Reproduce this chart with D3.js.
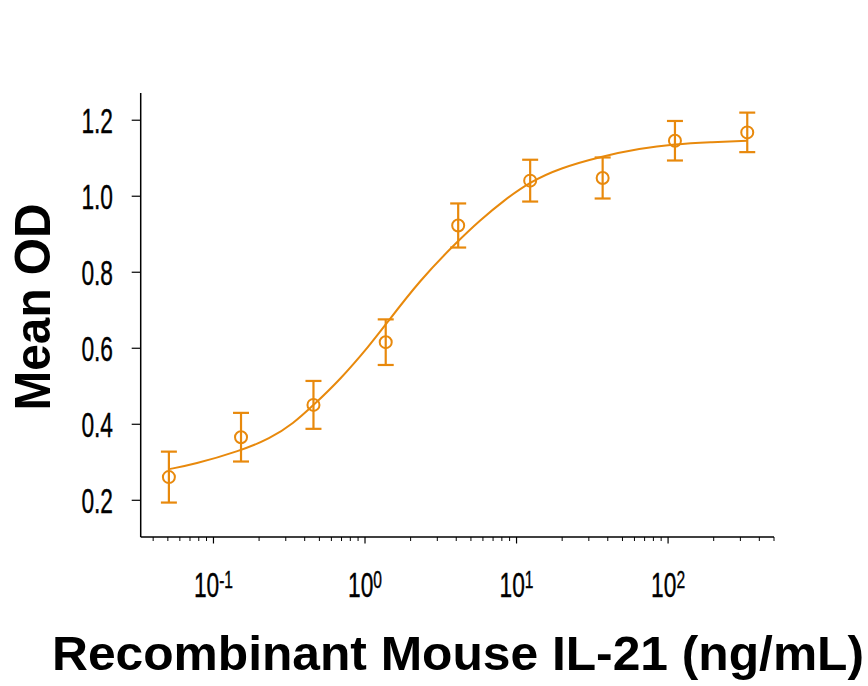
<!DOCTYPE html>
<html>
<head>
<meta charset="utf-8">
<script src="https://cdn.jsdelivr.net/npm/d3@7"></script>
<style>
  html, body { margin: 0; padding: 0; background: #fff; }
  svg { display: block; }
</style>
</head>
<body>
<svg id="chart" width="868" height="686"></svg>
<script>
// ---- data ----
const concentrations = [0.0508, 0.152, 0.457, 1.37, 4.12, 12.3, 37.0, 111, 333];
const meanOD = [0.261, 0.366, 0.451, 0.616, 0.923, 1.041, 1.048, 1.146, 1.168];
const errOD = [0.067, 0.064, 0.063, 0.060, 0.058, 0.055, 0.054, 0.052, 0.052];

// fitted curve
const curveX = [0.0508, 0.0736, 0.150, 0.236, 0.337, 0.456, 0.684, 1.08, 1.36, 2.31, 4.07, 5.75, 8.19, 12.3, 19.4, 35.6, 65.4, 111, 190, 333];
const curveY = [0.282, 0.294, 0.330, 0.362, 0.402, 0.450, 0.517, 0.609, 0.661, 0.780, 0.881, 0.937, 0.988, 1.038, 1.074, 1.104, 1.126, 1.137, 1.142, 1.146];

const yTicks = [0.2, 0.4, 0.6, 0.8, 1.0, 1.2];
const xMajorTicks = [0.1, 1, 10, 100];
const xTickExponents = ["-1", "0", "1", "2"];
const xLabel = "Recombinant Mouse IL-21 (ng/mL)";
const yLabel = "Mean OD";

// ---- layout ----
const color = "#E8890C";
const svg = d3.select("#chart");

const x = d3.scaleLog().domain([0.0331, 500]).range([140.7, 774]);
const y = d3.scaleLinear().domain([0.1034, 1.2716]).range([537, 93]);

// minor ticks
const minorTicks = [];
for (let e = -2; e <= 2; e++) {
  for (let m = 2; m <= 9; m++) {
    const v = m * Math.pow(10, e);
    if (v >= x.domain()[0] && v <= x.domain()[1]) minorTicks.push(v);
  }
}

const axisG = svg.append("g").attr("stroke", "#000").attr("fill", "none");
axisG.append("line").attr("x1", x.range()[0]).attr("x2", x.range()[0])
  .attr("y1", y.range()[1]).attr("y2", y.range()[0]).attr("stroke-width", 1.5);
axisG.append("line").attr("x1", x.range()[0]).attr("x2", x.range()[1])
  .attr("y1", y.range()[0]).attr("y2", y.range()[0]).attr("stroke-width", 1.5);

axisG.selectAll(".yt").data(yTicks).enter().append("line")
  .attr("x1", x.range()[0] - 9).attr("x2", x.range()[0])
  .attr("y1", d => y(d)).attr("y2", d => y(d)).attr("stroke-width", 1.2);

axisG.selectAll(".xmin").data(minorTicks).enter().append("line")
  .attr("x1", d => x(d)).attr("x2", d => x(d))
  .attr("y1", y.range()[0]).attr("y2", y.range()[0] + 4).attr("stroke-width", 1);
axisG.selectAll(".xmaj").data(xMajorTicks).enter().append("line")
  .attr("x1", d => x(d)).attr("x2", d => x(d))
  .attr("y1", y.range()[0]).attr("y2", y.range()[0] + 6.5).attr("stroke-width", 1.2);

const tickFont = "'Liberation Sans', Arial, sans-serif";
const squeeze = 0.65;

// y tick labels (condensed look via horizontal scale)
svg.selectAll(".ylab").data(yTicks).enter().append("text")
  .attr("transform", d => `translate(113,${y(d) + 12.3}) scale(${squeeze},1)`)
  .attr("text-anchor", "end")
  .attr("font-family", tickFont).attr("font-size", 35)
  .attr("fill", "#000").attr("stroke", "#000").attr("stroke-width", 0.4)
  .text(d => d.toFixed(1));

// x tick labels with superscripts
const xl = svg.selectAll(".xlab").data(xMajorTicks).enter().append("text")
  .attr("transform", d => `translate(${x(d)},597) scale(${squeeze},1)`)
  .attr("text-anchor", "middle")
  .attr("font-family", tickFont).attr("font-size", 35)
  .attr("fill", "#000").attr("stroke", "#000").attr("stroke-width", 0.4);
xl.append("tspan").text("10");
xl.append("tspan").attr("dy", -9.5).attr("font-size", 24)
  .text((d, i) => xTickExponents[i]);

// axis titles
svg.append("text")
  .attr("x", 458).attr("y", 670)
  .attr("text-anchor", "middle")
  .attr("font-family", "'Liberation Sans', Arial, sans-serif")
  .attr("font-weight", "bold").attr("font-size", 48)
  .attr("textLength", 812).attr("lengthAdjust", "spacingAndGlyphs")
  .attr("fill", "#000")
  .text(xLabel);

svg.append("text")
  .attr("transform", "translate(50,307) rotate(-90)")
  .attr("text-anchor", "middle")
  .attr("font-family", "'Liberation Sans', Arial, sans-serif")
  .attr("font-weight", "bold").attr("font-size", 50)
  .attr("textLength", 207).attr("lengthAdjust", "spacingAndGlyphs")
  .attr("fill", "#000")
  .text(yLabel);

// fitted curve
const curveData = curveX.map((cx, i) => [cx, curveY[i]]);
svg.append("path")
  .datum(curveData)
  .attr("fill", "none").attr("stroke", color).attr("stroke-width", 2)
  .attr("d", d3.line().x(d => x(d[0])).y(d => y(d[1])).curve(d3.curveBasis));

// error bars and points
const pts = concentrations.map((c, i) => ({ c, m: meanOD[i], e: errOD[i] }));
const eg = svg.append("g").attr("stroke", color).attr("stroke-width", 2.2).attr("fill", "none");
eg.selectAll(".ev").data(pts).enter().append("line")
  .attr("x1", d => x(d.c)).attr("x2", d => x(d.c))
  .attr("y1", d => y(d.m + d.e)).attr("y2", d => y(d.m - d.e));
eg.selectAll(".et").data(pts).enter().append("line")
  .attr("x1", d => x(d.c) - 8).attr("x2", d => x(d.c) + 8)
  .attr("y1", d => y(d.m + d.e)).attr("y2", d => y(d.m + d.e));
eg.selectAll(".eb").data(pts).enter().append("line")
  .attr("x1", d => x(d.c) - 8).attr("x2", d => x(d.c) + 8)
  .attr("y1", d => y(d.m - d.e)).attr("y2", d => y(d.m - d.e));
eg.selectAll(".pt").data(pts).enter().append("circle")
  .attr("cx", d => x(d.c)).attr("cy", d => y(d.m)).attr("r", 6)
  .attr("fill", "none").attr("stroke-width", 2);
</script>
</body>
</html>
